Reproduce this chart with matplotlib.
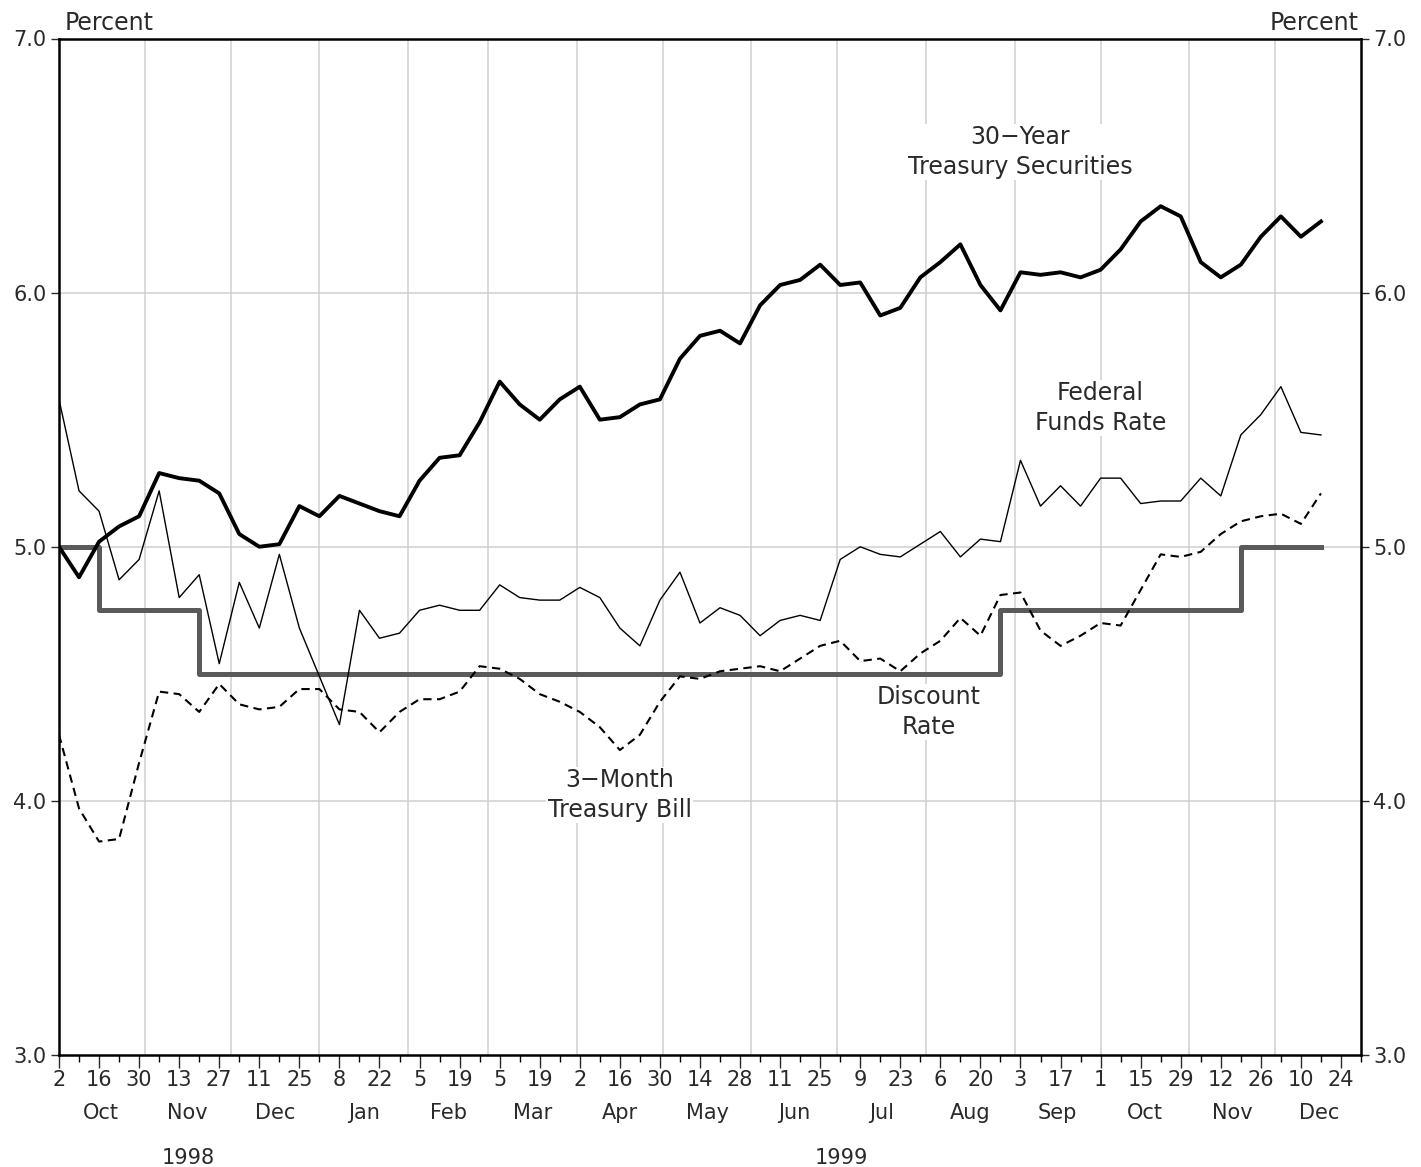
import numpy as np
import pandas as pd
import matplotlib
matplotlib.use("Agg")
from matplotlib import pyplot as plt
import matplotlib.transforms as mtrans

########################## DATA (weekly averages, Fridays from Oct 2 1998)
start = pd.Timestamp("1998-10-02")
weeks = pd.date_range(start, periods=64, freq="7D")

tsy30 = [5.00, 4.88, 5.02, 5.08, 5.12, 5.29, 5.27, 5.26, 5.21, 5.05, 5.00, 5.01, 5.16, 5.12, 5.20, 5.17,
         5.14, 5.12, 5.26, 5.35, 5.36, 5.49, 5.65, 5.56, 5.50, 5.58, 5.63, 5.50, 5.51, 5.56, 5.58, 5.74,
         5.83, 5.85, 5.80, 5.95, 6.03, 6.05, 6.11, 6.03, 6.04, 5.91, 5.94, 6.06, 6.12, 6.19, 6.03, 5.93,
         6.08, 6.07, 6.08, 6.06, 6.09, 6.17, 6.28, 6.34, 6.30, 6.12, 6.06, 6.11, 6.22, 6.30, 6.22, 6.28]

fedfunds = [5.58, 5.22, 5.14, 4.87, 4.95, 5.22, 4.80, 4.89, 4.54, 4.86, 4.68, 4.97, 4.68, 4.49, 4.30, 4.75,
            4.64, 4.66, 4.75, 4.77, 4.75, 4.75, 4.85, 4.80, 4.79, 4.79, 4.84, 4.80, 4.68, 4.61, 4.79, 4.90,
            4.70, 4.76, 4.73, 4.65, 4.71, 4.73, 4.71, 4.95, 5.00, 4.97, 4.96, 5.01, 5.06, 4.96, 5.03, 5.02,
            5.34, 5.16, 5.24, 5.16, 5.27, 5.27, 5.17, 5.18, 5.18, 5.27, 5.20, 5.44, 5.52, 5.63, 5.45, 5.44]

tbill3m = [4.26, 3.97, 3.84, 3.85, 4.15, 4.43, 4.42, 4.35, 4.46, 4.38, 4.36, 4.37, 4.44, 4.44, 4.36, 4.35,
           4.27, 4.35, 4.40, 4.40, 4.43, 4.53, 4.52, 4.48, 4.42, 4.39, 4.35, 4.29, 4.20, 4.26, 4.39, 4.49,
           4.48, 4.51, 4.52, 4.53, 4.51, 4.56, 4.61, 4.63, 4.55, 4.56, 4.51, 4.58, 4.63, 4.72, 4.65, 4.81,
           4.82, 4.67, 4.61, 4.65, 4.70, 4.69, 4.83, 4.97, 4.96, 4.98, 5.05, 5.10, 5.12, 5.13, 5.09, 5.21]

discount = [5.00] * 2 + [4.75] * 5 + [4.50] * 40 + [4.75] * 12 + [5.00] * 5

yticks = [3.0, 4.0, 5.0, 6.0, 7.0]
month_names = ["Oct", "Nov", "Dec", "Jan", "Feb", "Mar", "Apr", "May", "Jun",
               "Jul", "Aug", "Sep", "Oct", "Nov", "Dec"]
years = ["1998", "1999"]

########################## FIGURE
plt.rcParams["font.family"] = ["DejaVu Sans"]
fs = 15      # tick labels
fs_lab = 17  # series / unit labels
txt_col = "#2a2a2a"
fig = plt.figure(figsize=(14.21, 11.67), dpi=100)
ax = fig.add_axes([59 / 1421, 1 - 1055 / 1167, (1361 - 59) / 1421, (1055 - 38.5) / 1167])

xmin = start
xmax = pd.Timestamp("1999-12-31")
ax.set_xlim(xmin, xmax)
ax.set_ylim(3.0, 7.0)

# grid: month starts and integer percents
month_starts = pd.date_range("1998-11-01", "1999-12-01", freq="MS")
for m in month_starts:
    ax.axvline(m, color="#cfcfcf", lw=1.1, zorder=0)
for y in [4.0, 5.0, 6.0]:
    ax.axhline(y, color="#cfcfcf", lw=1.1, zorder=0)

# series
ax.plot(weeks, discount, drawstyle="steps-post", color="#5a5a5a", lw=3.6, zorder=2)
ax.plot(weeks, tbill3m, color="black", lw=1.5, dashes=(4, 2.6), zorder=3)
ax.plot(weeks, fedfunds, color="black", lw=1.0, zorder=3)
ax.plot(weeks, tsy30, color="black", lw=2.8, zorder=4)

# axes styling
for s in ax.spines.values():
    s.set_linewidth(1.8)
ax.set_yticks(yticks)
ax.set_yticklabels(["%.1f" % v for v in yticks])
ax.tick_params(axis="y", which="both", left=True, right=True, labelleft=True, labelright=True,
               direction="out", length=6, width=1.0, labelsize=fs, pad=3, colors=txt_col)

major = pd.date_range(start, "1999-12-24", freq="14D")
minor = pd.date_range(start + pd.Timedelta(days=7), xmax, freq="14D")
ax.set_xticks(major)
ax.set_xticklabels([str(d.day) for d in major])
ax.set_xticks(minor, minor=True)
ax.tick_params(axis="x", which="major", direction="out", length=9, width=1.0, labelsize=fs, pad=2,
               colors=txt_col)
ax.tick_params(axis="x", which="minor", direction="out", length=5, width=1.0)

# month and year labels under the ticks
trans = mtrans.blended_transform_factory(ax.transData, ax.transAxes)
month_bounds = pd.date_range("1998-10-01", "2000-01-01", freq="MS")
for i, name in enumerate(month_names):
    mid = month_bounds[i] + (month_bounds[i + 1] - month_bounds[i]) / 2
    ax.text(max(mid, xmin), -0.057, name, transform=trans, ha="center", va="center",
            fontsize=fs, color=txt_col)
year_bounds = [(pd.Timestamp("1998-10-01"), pd.Timestamp("1999-01-01")),
               (pd.Timestamp("1999-01-01"), pd.Timestamp("2000-01-01"))]
for name, (a, b) in zip(years, year_bounds):
    ax.text(a + (b - a) / 2, -0.101, name, transform=trans, ha="center", va="center",
            fontsize=fs, color=txt_col)

# unit labels
ax.text(0.004, 1.003, "Percent", transform=ax.transAxes, ha="left", va="bottom", fontsize=fs_lab,
        color=txt_col)
ax.text(0.998, 1.003, "Percent", transform=ax.transAxes, ha="right", va="bottom", fontsize=fs_lab,
        color=txt_col)

# series labels
box = dict(facecolor="white", edgecolor="none", pad=1)
ax.text(start + pd.Timedelta(days=336), 6.553, "30\u2212Year\nTreasury Securities", ha="center",
        va="center", fontsize=fs_lab, linespacing=1.3, color=txt_col, bbox=box, zorder=5)
ax.text(start + pd.Timedelta(days=364), 5.546, "Federal\nFunds Rate", ha="center",
        va="center", fontsize=fs_lab, linespacing=1.3, color=txt_col, bbox=box, zorder=5)
ax.text(start + pd.Timedelta(days=304), 4.350, "Discount\nRate", ha="center",
        va="center", fontsize=fs_lab, linespacing=1.3, color=txt_col, bbox=box, zorder=5)
ax.text(start + pd.Timedelta(days=196), 4.023, "3\u2212Month\nTreasury Bill", ha="center",
        va="center", fontsize=fs_lab, linespacing=1.3, color=txt_col, bbox=box, zorder=5)

plt.savefig("out.png", dpi=100)
plt.close()
